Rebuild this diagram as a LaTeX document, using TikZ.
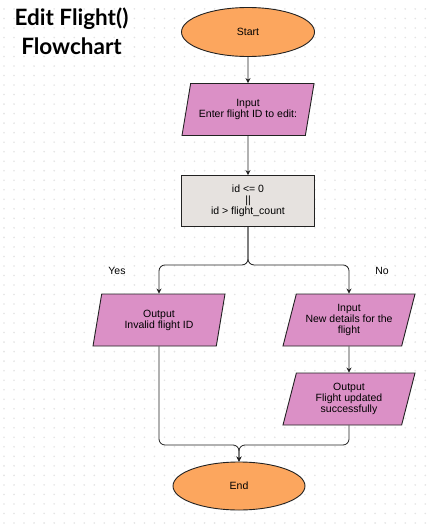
\documentclass[tikz,border=0pt]{standalone}
\usepackage{fontspec}
\setmainfont{Liberation Sans}
\newfontfamily\titlefont{Lato}
\usetikzlibrary{shapes.geometric,arrows.meta}
\definecolor{terminal}{HTML}{FCA65E}
\definecolor{iofill}{HTML}{DB90C6}
\definecolor{testfill}{HTML}{E6E2DF}
\definecolor{dotgray}{HTML}{E4E4E4}
\definecolor{ink}{HTML}{222222}

\begin{document}
\begin{tikzpicture}[x=1pt,y=-1pt,
        font=\fontsize{10.5}{11}\selectfont,
        terminator/.style={ellipse,draw=ink,fill=terminal,line width=0.9pt,
            minimum width=133pt,minimum height=49pt,inner sep=0pt},
        iobox/.style={trapezium,trapezium left angle=67,trapezium right angle=113,
            trapezium stretches body,draw=ink,fill=iofill,line width=0.9pt,
            minimum width=132pt,minimum height=52pt,inner sep=0pt,align=center},
        testbox/.style={rectangle,draw=ink,fill=testfill,line width=0.9pt,
            minimum width=133pt,minimum height=51pt,inner sep=0pt,align=center},
        flow/.style={draw=ink,line width=0.8pt,-{Stealth[length=5pt,width=5pt]}},
    ]
        \useasboundingbox (0,0) rectangle (432,525);
        \fill[white] (0,0) rectangle (432,525);
        \foreach \i in {0,...,42}
            \foreach \j in {0,...,54}
                \fill[dotgray] (4+\i*10.03, 8.9+\j*9.52) circle (0.9pt);

        \node[font=\titlefont\bfseries\fontsize{22.5}{29}\selectfont,align=center] (title) at (71.5,31) {Edit Flight()\\Flowchart};

        \node[terminator] (start) at (248,32) {Start};
        \node[iobox] (askid) at (248,109.5) {Input\\Enter flight ID to edit:};
        \node[testbox] (check) at (248,201) {id <= 0\\||\\id > flight\_count};
        \node[iobox] (invalid) at (159,320) {Output\\Invalid flight ID};
        \node[iobox] (askdetails) at (349,320) {Input\\New details for the\\flight};
        \node[iobox] (updated) at (349,399) {Output\\Flight updated\\successfully};
        \node[terminator,minimum width=132pt,minimum height=48pt] (finish) at (239,486) {End};
        \node (yes) at (117,271) {Yes};
        \node (no) at (382,271) {No};
        \coordinate (merge) at (239,445);

        \draw[flow] (start) -- (askid);
        \draw[flow] (askid) -- (check);
        \draw[flow,rounded corners=6pt] (check.south) -- ++(0,38) -| (invalid.north);
        \draw[flow,rounded corners=6pt] (check.south) -- ++(0,38) -| (askdetails.north);
        \draw[flow] (askdetails) -- (updated);
        \draw[flow,rounded corners=6pt] (invalid.south) |- (merge) -- (finish.north);
        \draw[flow,rounded corners=6pt] (updated.south) |- (merge) -- (finish.north);
    \end{tikzpicture}
\end{document}
